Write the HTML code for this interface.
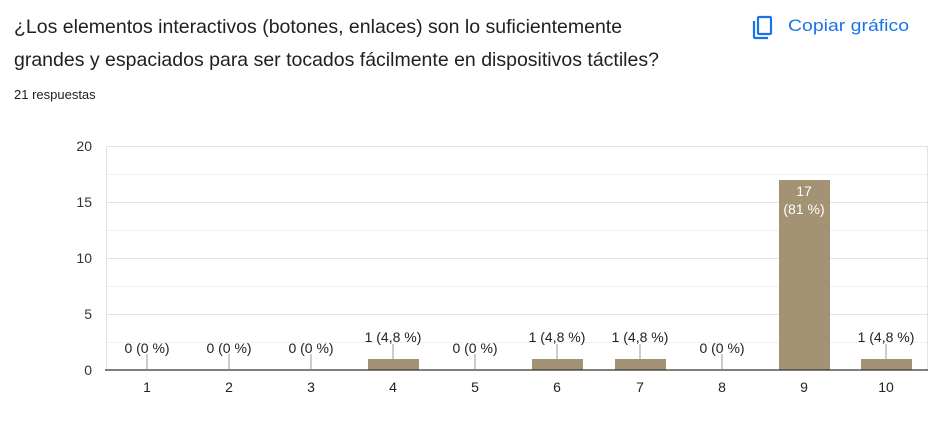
<!DOCTYPE html>
<html><head><meta charset="utf-8"><style>
body{margin:0;background:#fff;width:938px;height:428px;overflow:hidden;font-family:"Liberation Sans",Arial,sans-serif}
</style></head><body>
<svg width="938" height="428" xmlns="http://www.w3.org/2000/svg" font-family="Liberation Sans, Arial, sans-serif">
<text x="14" y="33" font-size="19.5" fill="#202124">¿Los elementos interactivos (botones, enlaces) son lo suficientemente</text>
<text x="14" y="66" font-size="19.5" fill="#202124">grandes y espaciados para ser tocados fácilmente en dispositivos táctiles?</text>
<text x="14" y="99" font-size="13" fill="#202124">21 respuestas</text>
<g fill="none" stroke="#1a73e8" stroke-width="2.2">
<rect x="758" y="17" width="13" height="17" rx="1"/>
<path d="M754 21 V37 a1 1 0 0 0 1 1 H768"/>
</g>
<text x="788" y="31" font-size="17" fill="#1a73e8" textLength="121" lengthAdjust="spacingAndGlyphs">Copiar gráfico</text>
<g stroke="#f0f0f0" stroke-width="1">
<line x1="106" x2="928" y1="174.5" y2="174.5"/><line x1="106" x2="928" y1="230.5" y2="230.5"/>
<line x1="106" x2="928" y1="286.5" y2="286.5"/><line x1="106" x2="928" y1="342.5" y2="342.5"/>
</g>
<g stroke="#e3e3e3" stroke-width="1">
<line x1="106" x2="928" y1="146.5" y2="146.5"/><line x1="106" x2="928" y1="202.5" y2="202.5"/>
<line x1="106" x2="928" y1="258.5" y2="258.5"/><line x1="106" x2="928" y1="314.5" y2="314.5"/>
<line x1="106.5" x2="106.5" y1="146" y2="370"/><line x1="927.5" x2="927.5" y1="146" y2="370"/>
</g>
<g font-size="14" fill="#333" text-anchor="end">
<text x="92" y="151">20</text><text x="92" y="207">15</text><text x="92" y="263">10</text><text x="92" y="319">5</text><text x="92" y="375">0</text>
</g>
<g fill="#a39274">
<rect x="368" y="359" width="51" height="11"/>
<rect x="532" y="359" width="51" height="11"/>
<rect x="615" y="359" width="51" height="11"/>
<rect x="779" y="180" width="51" height="190"/>
<rect x="861" y="359" width="51" height="11"/>
</g>
<line x1="105" x2="928" y1="370" y2="370" stroke="#333" stroke-width="1.3"/>
<g stroke="#999" stroke-width="1">
<line x1="147" x2="147" y1="354" y2="369"/><line x1="229" x2="229" y1="354" y2="369"/><line x1="311" x2="311" y1="354" y2="369"/>
<line x1="475" x2="475" y1="354" y2="369"/><line x1="722" x2="722" y1="354" y2="369"/>
<line x1="393" x2="393" y1="344" y2="359"/><line x1="557" x2="557" y1="344" y2="359"/><line x1="640" x2="640" y1="344" y2="359"/><line x1="886" x2="886" y1="344" y2="359"/>
</g>
<g font-size="14" fill="#222" text-anchor="middle">
<text x="147" y="353">0 (0 %)</text><text x="229" y="353">0 (0 %)</text><text x="311" y="353">0 (0 %)</text>
<text x="393" y="342">1 (4,8 %)</text><text x="475" y="353">0 (0 %)</text><text x="557" y="342">1 (4,8 %)</text>
<text x="640" y="342">1 (4,8 %)</text><text x="722" y="353">0 (0 %)</text><text x="886" y="342">1 (4,8 %)</text>
</g>
<g font-size="14" fill="#fff" text-anchor="middle">
<text x="804" y="196">17</text><text x="804" y="214">(81 %)</text>
</g>
<g font-size="14" fill="#222" text-anchor="middle">
<text x="147" y="392">1</text><text x="229" y="392">2</text><text x="311" y="392">3</text><text x="393" y="392">4</text><text x="475" y="392">5</text>
<text x="557" y="392">6</text><text x="640" y="392">7</text><text x="722" y="392">8</text><text x="804" y="392">9</text><text x="886" y="392">10</text>
</g>
</svg>
</body></html>
